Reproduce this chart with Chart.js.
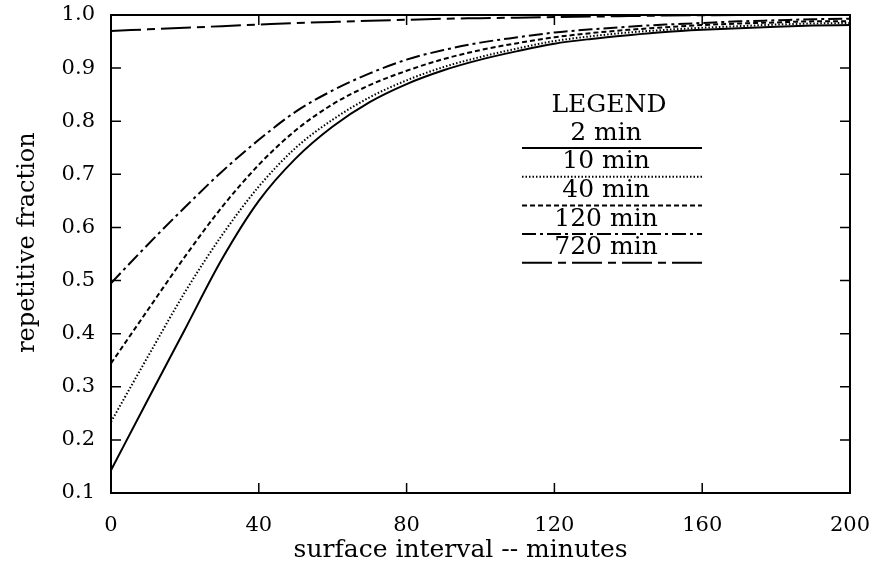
<!DOCTYPE html>
<html>
<head>
<meta charset="utf-8">
<script src="https://cdn.jsdelivr.net/npm/chart.js@4/dist/chart.umd.min.js"></script>
<style>
html, body { margin: 0; padding: 0; background: #fff; }
#wrap { width: 872px; height: 565px; }
</style>
</head>
<body>
<div id="wrap"><canvas id="chart"></canvas></div>
<script>
// surface interval (minutes) and repetitive fraction for each dive length
const minutes = [0, 10, 20, 30, 40, 50, 60, 70, 80, 90, 100, 110, 120, 130, 140, 150, 160, 170, 180, 190, 200];
const frac2   = [0.143, 0.276, 0.408, 0.540, 0.650, 0.730, 0.790, 0.836, 0.870, 0.896, 0.916, 0.932, 0.946, 0.955, 0.962, 0.968, 0.972, 0.975, 0.978, 0.980, 0.981];
const frac10  = [0.234, 0.357, 0.478, 0.585, 0.677, 0.750, 0.803, 0.845, 0.877, 0.902, 0.921, 0.937, 0.951, 0.960, 0.967, 0.972, 0.976, 0.979, 0.982, 0.984, 0.985];
const frac40  = [0.344, 0.445, 0.545, 0.638, 0.718, 0.783, 0.832, 0.868, 0.895, 0.917, 0.934, 0.947, 0.958, 0.966, 0.972, 0.977, 0.981, 0.984, 0.986, 0.988, 0.988];
const frac120 = [0.495, 0.568, 0.638, 0.705, 0.765, 0.818, 0.858, 0.890, 0.916, 0.934, 0.948, 0.958, 0.967, 0.973, 0.978, 0.982, 0.985, 0.988, 0.990, 0.992, 0.993];
const frac720 = [0.970, 0.973, 0.976, 0.979, 0.982, 0.985, 0.987, 0.989, 0.991, 0.993, 0.994, 0.995, 0.996, 0.997, 0.998, 0.999, 0.9995, 1.0, 1.0, 1.0, 1.0];

const seriesLabels = ['2 min', '10 min', '40 min', '120 min', '720 min'];
const xTicks = [0, 40, 80, 120, 160, 200];
const yTicks = [0.1, 0.2, 0.3, 0.4, 0.5, 0.6, 0.7, 0.8, 0.9, 1.0];

const FONT = "'DejaVu Serif', serif";

function pts(ys) {
  return minutes.map((m, i) => ({ x: m, y: ys[i] }));
}

function series(label, ys, dash) {
  return {
    label: label,
    data: pts(ys),
    borderColor: '#000',
    borderWidth: 2,
    borderDash: dash,
    pointRadius: 0,
    fill: false,
    cubicInterpolationMode: 'monotone'
  };
}

// box round the plot and short ticks pointing inward on all four sides
const framePlugin = {
  id: 'frame',
  afterDatasetsDraw(chart) {
    const { ctx, chartArea: a, scales } = chart;
    const len = 10;
    ctx.save();
    ctx.strokeStyle = '#000';
    ctx.lineWidth = 2;
    ctx.setLineDash([]);
    ctx.strokeRect(a.left, a.top, a.right - a.left, a.bottom - a.top);
    ctx.lineWidth = 1.5;
    ctx.beginPath();
    xTicks.slice(1, -1).forEach(v => {
      const x = scales.x.getPixelForValue(v);
      ctx.moveTo(x, a.bottom); ctx.lineTo(x, a.bottom - len);
      ctx.moveTo(x, a.top); ctx.lineTo(x, a.top + len);
    });
    yTicks.slice(1, -1).forEach(v => {
      const y = scales.y.getPixelForValue(v);
      ctx.moveTo(a.left, y); ctx.lineTo(a.left + len, y);
      ctx.moveTo(a.right, y); ctx.lineTo(a.right - len, y);
    });
    ctx.stroke();
    ctx.restore();
  }
};

// legend drawn inside the plot: text with a sample of the line under it
const legendPlugin = {
  id: 'boxLegend',
  afterDatasetsDraw(chart) {
    const ctx = chart.ctx;
    const cx = 606, x0 = 522, x1 = 702;
    ctx.save();
    ctx.fillStyle = '#000';
    ctx.font = '25px ' + FONT;
    ctx.textAlign = 'center';
    ctx.textBaseline = 'middle';
    ctx.fillText('LEGEND', 609, 105);
    chart.data.datasets.forEach((ds, i) => {
      const ly = 148 + 28.7 * i;
      ctx.fillText(ds.label, cx, ly - 15);
      ctx.beginPath();
      ctx.strokeStyle = '#000';
      ctx.lineWidth = 2;
      ctx.setLineDash(ds.borderDash || []);
      ctx.moveTo(x0, ly);
      ctx.lineTo(x1, ly);
      ctx.stroke();
    });
    ctx.restore();
  }
};

new Chart(document.getElementById('chart'), {
  type: 'line',
  data: {
    datasets: [
      series(seriesLabels[0], frac2, []),
      series(seriesLabels[1], frac10, [1.5, 2]),
      series(seriesLabels[2], frac40, [5, 3]),
      series(seriesLabels[3], frac120, [14, 4, 3, 4]),
      series(seriesLabels[4], frac720, [30, 6, 8, 6])
    ]
  },
  options: {
    responsive: true,
    maintainAspectRatio: false,
    animation: false,
    events: [],
    layout: { padding: { top: 15, right: 22, left: 0, bottom: 0 } },
    plugins: {
      legend: { display: false },
      tooltip: { enabled: false }
    },
    scales: {
      x: {
        type: 'linear',
        min: 0,
        max: 200,
        afterBuildTicks: s => { s.ticks = xTicks.map(v => ({ value: v })); },
        afterFit: s => { s.height = 72; s.paddingLeft = 0; s.paddingRight = 0; },
        grid: { display: false, drawTicks: false },
        border: { display: false },
        ticks: {
          color: '#000',
          padding: 20,
          maxRotation: 0,
          font: { family: FONT, size: 21 },
          callback: v => String(v)
        },
        title: {
          display: true,
          text: 'surface interval -- minutes     ',
          color: '#000',
          font: { family: FONT, size: 25 },
          padding: { top: 0, bottom: 0 }
        }
      },
      y: {
        type: 'linear',
        min: 0.1,
        max: 1.0,
        afterBuildTicks: s => { s.ticks = yTicks.map(v => ({ value: v })); },
        afterFit: s => { s.width = 111; s.paddingTop = 0; s.paddingBottom = 0; },
        grid: { display: false, drawTicks: false },
        border: { display: false },
        ticks: {
          color: '#000',
          padding: 16,
          font: { family: FONT, size: 21 },
          callback: v => Number(v).toFixed(1)
        },
        title: {
          display: true,
          text: '   repetitive fraction',
          color: '#000',
          font: { family: FONT, size: 24 },
          padding: { top: 13, bottom: 0 }
        }
      }
    }
  },
  plugins: [framePlugin, legendPlugin]
});
</script>
</body>
</html>
